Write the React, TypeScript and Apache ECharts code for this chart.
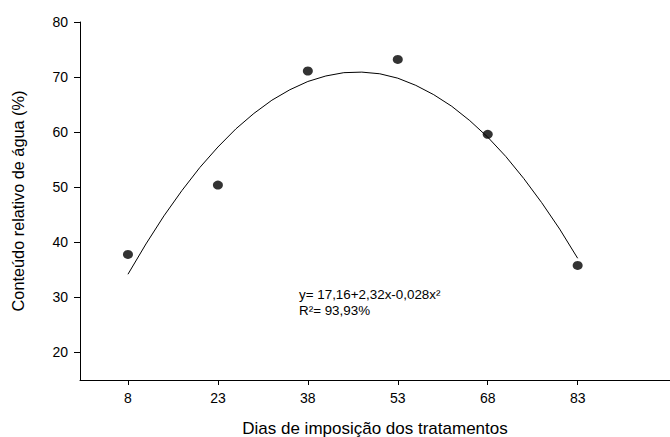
import React, { useEffect, useRef } from "react";
import * as echarts from "echarts";

const xTicks = [8, 23, 38, 53, 68, 83];
const yTicks = [20, 30, 40, 50, 60, 70, 80];
const obsX = [8, 23, 38, 53, 68, 83];
const obsY = [37.8, 50.4, 71.1, 73.2, 59.6, 35.8];
const fitX = [8, 11, 14, 17, 20, 23, 26, 29, 32, 35, 38, 41, 44, 47, 50, 53, 56, 59, 62, 65, 68, 71, 74, 77, 80, 83];
const fitY = [34.2, 39.7, 44.8, 49.4, 53.6, 57.3, 60.6, 63.4, 65.8, 67.7, 69.2, 70.2, 70.8, 70.9, 70.6, 69.8, 68.5, 66.8, 64.7, 62.1, 59.1, 55.6, 51.6, 47.2, 42.4, 37.1];
const eqLine1 = "y= 17,16+2,32x-0,028x²";
const eqLine2 = "R²= 93,93%";
const xTitle = "Dias de imposição dos tratamentos";
const yTitle = "Conteúdo relativo de água (%)";

const FONT = "'Liberation Sans', Arial, sans-serif";

export default function App() {
  const ref = useRef<HTMLDivElement>(null);
  useEffect(() => {
    if (!ref.current) return;
    const chart = echarts.init(ref.current, null, { renderer: "svg" });
    chart.setOption({
      animation: false,
      backgroundColor: "#ffffff",
      textStyle: { fontFamily: FONT },
      grid: { left: 80, right: 0, top: 22, bottom: 57, containLabel: false, outerBoundsMode: "none" },
      xAxis: {
        type: "value",
        min: 0,
        max: 98.4,
        name: xTitle,
        nameLocation: "middle",
        nameGap: 40,
        nameTextStyle: { fontSize: 17, color: "#000", fontFamily: FONT },
        axisLine: { onZero: false, lineStyle: { color: "#000", width: 1 } },
        axisTick: { show: true, length: 5, inside: false, customValues: xTicks, lineStyle: { color: "#000" } },
        axisLabel: { customValues: xTicks, fontSize: 14, color: "#000", margin: 11, fontFamily: FONT },
        splitLine: { show: false },
      },
      yAxis: {
        type: "value",
        min: 15,
        max: 80,
        name: yTitle,
        nameLocation: "middle",
        nameGap: 54,
        nameTextStyle: { fontSize: 16.3, color: "#000", fontFamily: FONT },
        axisLine: { onZero: false, lineStyle: { color: "#000", width: 1 } },
        axisTick: { show: true, length: 6, inside: false, customValues: yTicks, lineStyle: { color: "#000" } },
        axisLabel: { customValues: yTicks, fontSize: 14, color: "#000", margin: 12, fontFamily: FONT },
        splitLine: { show: false },
      },
      series: [
        {
          type: "line",
          data: fitX.map((x, i) => [x, fitY[i]]),
          smooth: false,
          showSymbol: false,
          symbol: "none",
          lineStyle: { color: "#000", width: 1 },
          z: 2,
        },
        {
          type: "scatter",
          data: obsX.map((x, i) => [x, obsY[i]]),
          symbol: "circle",
          symbolSize: [10, 9],
          itemStyle: { color: "#000" },
          z: 3,
        },
      ],
      graphic: [
        {
          type: "text",
          left: 299,
          top: 288,
          style: { text: eqLine1, fontSize: 13.4, fill: "#000", fontFamily: FONT },
        },
        {
          type: "text",
          left: 299,
          top: 304,
          style: { text: eqLine2, fontSize: 13.4, fill: "#000", fontFamily: FONT },
        },
      ],
    });
    return () => chart.dispose();
  }, []);
  return (
    <div
      ref={ref}
      style={{ position: "fixed", left: 0, top: 0, width: 670, height: 437, background: "#fff" }}
    />
  );
}
